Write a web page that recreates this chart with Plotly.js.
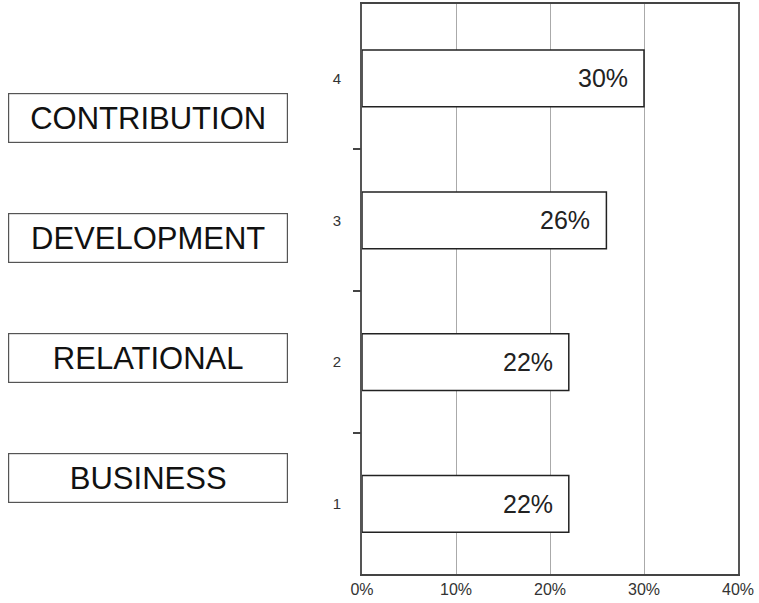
<!DOCTYPE html>
<html>
<head>
<meta charset="utf-8">
<script src="https://cdn.plot.ly/plotly-3.0.1.min.js"></script>
<style>html,body{margin:0;padding:0;background:#fff;}#chart{width:759px;height:603px;}</style>
</head>
<body>
<div id="chart"></div>
<script>
const positions = [1, 2, 3, 4];
const values = [22, 22, 26, 30];
const barTexts = ['22%', '22%', '26%', '30%'];
const yTickLabels = ['1', '2', '3', '4'];
const xTickVals = [0, 10, 20, 30, 40];
const xTickText = ['0%', '10%', '20%', '30%', '40%'];
const sideLabels = ['CONTRIBUTION', 'DEVELOPMENT', 'RELATIONAL', 'BUSINESS'];
const sideLabelY = [0.80, 0.589, 0.379, 0.168];
const boundaryVals = [1.5, 2.5, 3.5];
const yRange = [0.506, 4.525];

const fontFam = '"Liberation Sans", Arial, sans-serif';

const trace = {
  type: 'bar',
  orientation: 'h',
  x: values,
  y: positions,
  width: 0.4,
  marker: {color: '#ffffff', line: {color: '#222222', width: 1.5}},
  hoverinfo: 'none',
  showlegend: false
};

const annotations = [];
values.forEach((v, i) => {
  annotations.push({
    x: v, y: positions[i], xref: 'x', yref: 'y',
    text: barTexts[i], showarrow: false,
    xanchor: 'right', yanchor: 'middle', xshift: -14,
    font: {family: fontFam, size: 25, color: '#222'}
  });
});
sideLabels.forEach((t, i) => {
  annotations.push({
    x: -0.569, y: sideLabelY[i], xref: 'paper', yref: 'paper',
    text: t, showarrow: false,
    xanchor: 'center', yanchor: 'middle',
    width: 278, height: 48, borderpad: 0,
    bordercolor: '#555', borderwidth: 1.2,
    bgcolor: '#fff',
    font: {family: fontFam, size: 31, color: '#111'}
  });
});

const layout = {
  width: 759, height: 603,
  margin: {l: 362, r: 21, t: 4, b: 29},
  paper_bgcolor: '#fff', plot_bgcolor: '#fff',
  font: {family: fontFam, color: '#333'},
  xaxis: {
    range: [0, 40], tickmode: 'array', tickvals: xTickVals, ticktext: xTickText,
    showgrid: true, gridcolor: '#aaaaaa', gridwidth: 1,
    zeroline: false, showline: true, linecolor: '#444', linewidth: 2, mirror: true,
    ticks: '', tickfont: {family: fontFam, size: 16, color: '#333'}, fixedrange: true
  },
  yaxis: {
    range: yRange, tickmode: 'array', tickvals: positions, ticktext: yTickLabels,
    ticks: 'outside', ticklen: 16, tickcolor: 'rgba(0,0,0,0)',
    showgrid: false, zeroline: false, showline: true, linecolor: '#555', linewidth: 2, mirror: true,
    tickfont: {family: fontFam, size: 15, color: '#333'},
    fixedrange: true
  },
  yaxis2: {
    overlaying: 'y', side: 'left', range: yRange,
    tickmode: 'array', tickvals: boundaryVals, ticktext: ['', '', ''],
    ticks: 'outside', ticklen: 8, tickwidth: 2, tickcolor: '#444',
    showgrid: false, zeroline: false, showline: false, fixedrange: true
  },
  annotations: annotations
};

const dummy = {type: 'scatter', x: [], y: [], yaxis: 'y2', hoverinfo: 'none', showlegend: false};

Plotly.newPlot('chart', [trace, dummy], layout, {displayModeBar: false, staticPlot: true});
</script>
</body>
</html>
